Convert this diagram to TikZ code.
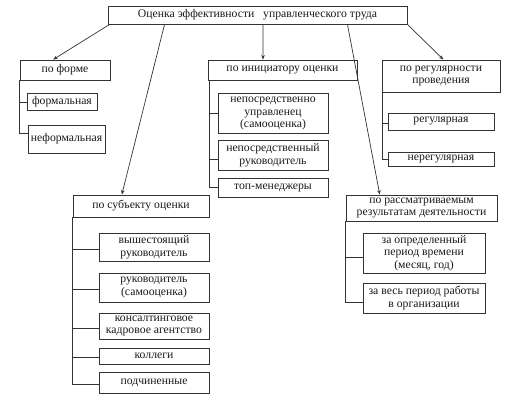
\documentclass[tikz,border=0pt]{standalone}
\usepackage{fontspec}
\setmainfont{Liberation Serif}
\usetikzlibrary{arrows.meta,calc}
\definecolor{linec}{HTML}{333333}
\definecolor{textc}{HTML}{1A1A1A}
\begin{document}
\begin{tikzpicture}[x=1pt,y=-1pt,
  box/.style={draw=linec, line width=0.9pt, inner sep=0pt, align=center, text=textc,
    font=\fontsize{11.7}{12.6}\selectfont},
  arr/.style={draw=linec, line width=0.7pt, -{Stealth[length=4.5pt,width=3.6pt]}},
  tree/.style={draw=linec, line width=0.9pt}]
\useasboundingbox (0,0) rectangle (511,402);
\fill[white] (0,0) rectangle (511,402);

% root
\node[box, minimum width=299pt, minimum height=18pt] (top) at (257.5,15) {Оценка эффективности\ \ \ управленческого труда};

% by form
\node[box, minimum width=90pt, minimum height=20pt] (forma) at (65,70) {по форме};
\node[box, minimum width=70pt, minimum height=17pt] (formal) at (62,102) {формальная};
\node[box, minimum width=77pt, minimum height=28pt] (neformal) at (66.5,139) {неформальная};

% by subject
\node[box, minimum width=136pt, minimum height=22pt] (subj) at (141,206) {по субъекту оценки};
\node[box, minimum width=110pt, minimum height=28pt] (s1) at (154,247) {вышестоящий\\руководитель};
\node[box, minimum width=110pt, minimum height=29pt] (s2) at (154,287.5) {руководитель\\(самооценка)};
\node[box, minimum width=110pt, minimum height=26pt] (s3) at (154,326) {консалтинговое\\кадровое агентство};
\node[box, minimum width=110pt, minimum height=16pt] (s4) at (154,356) {коллеги};
\node[box, minimum width=110pt, minimum height=21pt] (s5) at (154,382.5) {подчиненные};

% by initiator
\node[box, minimum width=149pt, minimum height=20pt] (init) at (282.5,70) {по инициатору оценки};
\node[box, minimum width=110pt, minimum height=40pt] (i1) at (273,113.5) {непосредственно\\управленец\\(самооценка)};
\node[box, minimum width=110pt, minimum height=30pt] (i2) at (273,155) {непосредственный\\руководитель};
\node[box, minimum width=110pt, minimum height=19pt] (i3) at (273,187.5) {топ-менеджеры};

% by regularity
\node[box, minimum width=118pt, minimum height=32pt] (regul) at (441,76) {по регулярности\\проведения};
\node[box, minimum width=106pt, minimum height=17pt] (r1) at (441,121.5) {регулярная};
\node[box, minimum width=106pt, minimum height=14pt] (r2) at (441,159.5) {нерегулярная};

% by results
\node[box, minimum width=151pt, minimum height=26pt] (res) at (421.5,208) {по рассматриваемым\\результатам деятельности};
\node[box, minimum width=122pt, minimum height=40pt] (e1) at (424,253) {за определенный\\период времени\\(месяц, год)};
\node[box, minimum width=122pt, minimum height=30pt] (e2) at (424,298) {за весь период работы\\в организации};

% arrows from root
\draw[arr] ($(top.south west)+(2,0)$) -- ($(forma.north west)!0.37!(forma.north east)$);
\draw[arr] ($(top.south west)!0.19!(top.south east)$) -- ($(subj.north west)!0.36!(subj.north east)$);
\draw[arr] ($(top.south west)!0.518!(top.south east)$) -- ($(init.north west)!0.37!(init.north east)$);
\draw[arr] ($(top.south west)!0.80!(top.south east)$) -- ($(res.north west)!0.225!(res.north east)$);
\draw[arr] (top.south east) -- ($(regul.north west)!0.52!(regul.north east)$);

% tree connectors
\draw[tree] (forma.south west) |- (formal.west);
\draw[tree] (forma.south west) |- ($(neformal.north west)!0.3!(neformal.south west)$);

\foreach \c in {s1,s2,s3,s4,s5}
  \draw[tree] (subj.south west) |- ($(\c.north west)!0.58!(\c.south west)$);

\draw[tree] ($(init.south west)+(2,0)$) |- (i1.west);
\draw[tree] ($(init.south west)+(2,0)$) |- ($(i2.north west)!0.65!(i2.south west)$);
\draw[tree] ($(init.south west)+(2,0)$) |- (i3.west);

\draw[tree] ($(regul.south west)+(1,0)$) |- ($(r1.north west)!0.6!(r1.south west)$);
\draw[tree] ($(regul.south west)+(1,0)$) |- (r2.west);

\draw[tree] (res.south west) |- ($(e1.north west)!0.6!(e1.south west)$);
\draw[tree] (res.south west) |- ($(e2.north west)!0.63!(e2.south west)$);
\end{tikzpicture}
\end{document}
